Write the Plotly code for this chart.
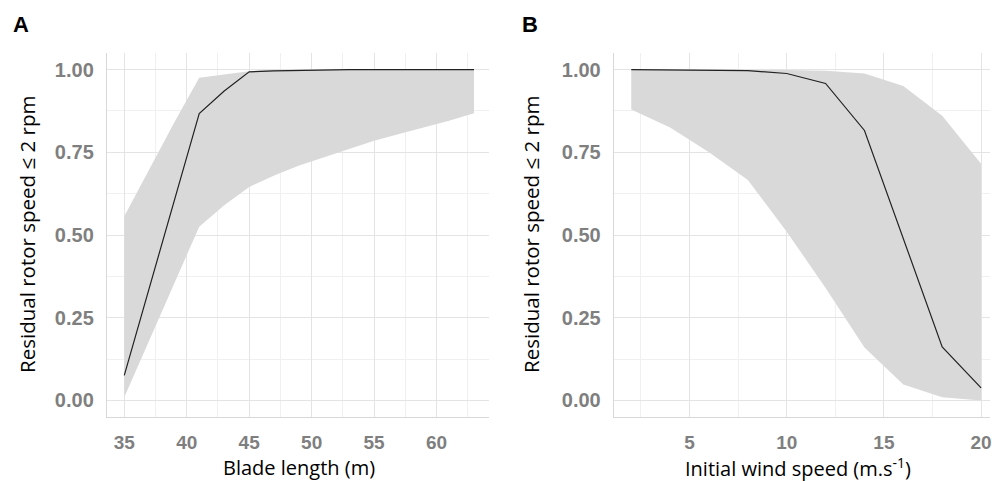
import plotly.graph_objects as go

# Panel A data: blade length (m)
blade_x = [35, 37, 39, 41, 43, 45, 47, 49, 51, 53, 55, 57, 59, 61, 63]
blade_mean = [0.076, 0.34, 0.60, 0.867, 0.935, 0.993, 0.996, 0.998, 1.0, 1.0, 1.0, 1.0, 1.0, 1.0, 1.0]
blade_low = [0.01, 0.18, 0.35, 0.525, 0.59, 0.645, 0.68, 0.71, 0.735, 0.76, 0.785, 0.805, 0.825, 0.845, 0.868]
blade_high = [0.557, 0.70, 0.84, 0.975, 0.985, 0.995, 1.0, 1.0, 1.0, 1.0, 1.0, 1.0, 1.0, 1.0, 1.0]

# Panel B data: initial wind speed (m/s)
wind_x = [2, 4, 6, 8, 10, 12, 14, 16, 18, 20]
wind_mean = [1.0, 0.999, 0.997, 0.997, 0.988, 0.958, 0.816, 0.49, 0.162, 0.038]
wind_low = [0.879, 0.825, 0.75, 0.666, 0.51, 0.34, 0.16, 0.048, 0.01, 0.0]
wind_high = [1.0, 1.0, 1.0, 1.0, 0.999, 0.996, 0.988, 0.95, 0.86, 0.715]

y_ticks = [0, 0.25, 0.5, 0.75, 1.0]
y_ticklabels = ["0.00", "0.25", "0.50", "0.75", "1.00"]
blade_ticks = [35, 40, 45, 50, 55, 60]
wind_ticks = [5, 10, 15, 20]

y_title = "Residual rotor speed \u2264 2 rpm"
xa_title = "Blade length (m)"
xb_title = "Initial wind speed (m.s<sup>-1</sup>)"

W, H = 992, 481
ribbon = "rgba(217,217,217,1)"
grid = "#e4e4e4"
minor_grid = "#f0f0f0"
tickc = "#7f7f7f"

fig = go.Figure()

def add_panel(x, lo, hi, mean, xa, ya):
    fig.add_trace(go.Scatter(x=x, y=hi, mode="lines", line=dict(width=0), xaxis=xa, yaxis=ya,
                             showlegend=False, hoverinfo="skip"))
    fig.add_trace(go.Scatter(x=x, y=lo, mode="lines", line=dict(width=0), fill="tonexty",
                             fillcolor=ribbon, xaxis=xa, yaxis=ya, showlegend=False, hoverinfo="skip"))
    fig.add_trace(go.Scatter(x=x, y=mean, mode="lines", line=dict(color="#222222", width=1.2),
                             xaxis=xa, yaxis=ya, showlegend=False))

add_panel(blade_x, blade_low, blade_high, blade_mean, "x", "y")
add_panel(wind_x, wind_low, wind_high, wind_mean, "x2", "y2")

tickfont = dict(family="Liberation Sans, Arial", size=19, color=tickc, weight="bold")

yaxis_common = dict(range=[-0.05, 1.05], tickvals=y_ticks, ticktext=y_ticklabels,
                    tickfont=dict(tickfont, size=20), showgrid=True, gridcolor=grid, gridwidth=1,
                    minor=dict(tickvals=[0.125, 0.375, 0.625, 0.875], showgrid=True,
                               gridcolor=minor_grid, gridwidth=1),
                    showline=True, linecolor="#d8d8d8", linewidth=1, zeroline=False,
                    ticks="", ticklabelstandoff=8, fixedrange=True)
xaxis_common = dict(showgrid=True, gridcolor=grid, gridwidth=1, tickfont=tickfont,
                    showline=True, linecolor="#d8d8d8", linewidth=1, zeroline=False,
                    ticks="", ticklabelstandoff=8, ticklabeloverflow="allow", fixedrange=True)

ydom = [1 - 417 / H, 1 - 53 / H]
title_font_y = dict(family="Open Sans", size=20.5, color="black")
title_font_x = dict(family="Open Sans", size=20, color="black")
letter_font = dict(family="Liberation Sans, Arial", size=22, color="black")

fig.update_layout(
    width=W, height=H,
    margin=dict(l=0, r=0, t=0, b=0, pad=0),
    paper_bgcolor="white", plot_bgcolor="white",
    xaxis=dict(domain=[107 / W, 490 / W], range=[33.6, 64.2], tickvals=blade_ticks,
               minor=dict(tickvals=[37.5, 42.5, 47.5, 52.5, 57.5, 62.5], showgrid=True,
                          gridcolor=minor_grid, gridwidth=1),
               anchor="y", **xaxis_common),
    yaxis=dict(domain=ydom, anchor="x", **yaxis_common),
    xaxis2=dict(domain=[615 / W, 1.0], range=[1.1, 20.46], tickvals=wind_ticks,
                minor=dict(tickvals=[2.5, 7.5, 12.5, 17.5], showgrid=True,
                           gridcolor=minor_grid, gridwidth=1),
                anchor="y2", **xaxis_common),
    yaxis2=dict(domain=ydom, anchor="x2", **yaxis_common),
    annotations=[
        dict(text="<b>A</b>", x=21 / W, y=1 - 25 / H, xref="paper", yref="paper",
             showarrow=False, font=letter_font, xanchor="center", yanchor="middle"),
        dict(text="<b>B</b>", x=531 / W, y=1 - 25 / H, xref="paper", yref="paper",
             showarrow=False, font=letter_font, xanchor="center", yanchor="middle"),
        dict(text=y_title, x=27 / W, y=1 - 234 / H, xref="paper", yref="paper", textangle=-90,
             showarrow=False, font=title_font_y, xanchor="center", yanchor="middle"),
        dict(text=y_title, x=532 / W, y=1 - 234 / H, xref="paper", yref="paper", textangle=-90,
             showarrow=False, font=title_font_y, xanchor="center", yanchor="middle"),
        dict(text=xa_title, x=300 / W, y=1 - 467 / H, xref="paper", yref="paper",
             showarrow=False, font=title_font_x, xanchor="center", yanchor="middle"),
        dict(text=xb_title, x=800 / W, y=1 - 467 / H, xref="paper", yref="paper",
             showarrow=False, font=title_font_x, xanchor="center", yanchor="middle"),
    ],
)

fig.write_html("out.html", config={"displayModeBar": False},
               post_script="document.body.style.margin='0';")
